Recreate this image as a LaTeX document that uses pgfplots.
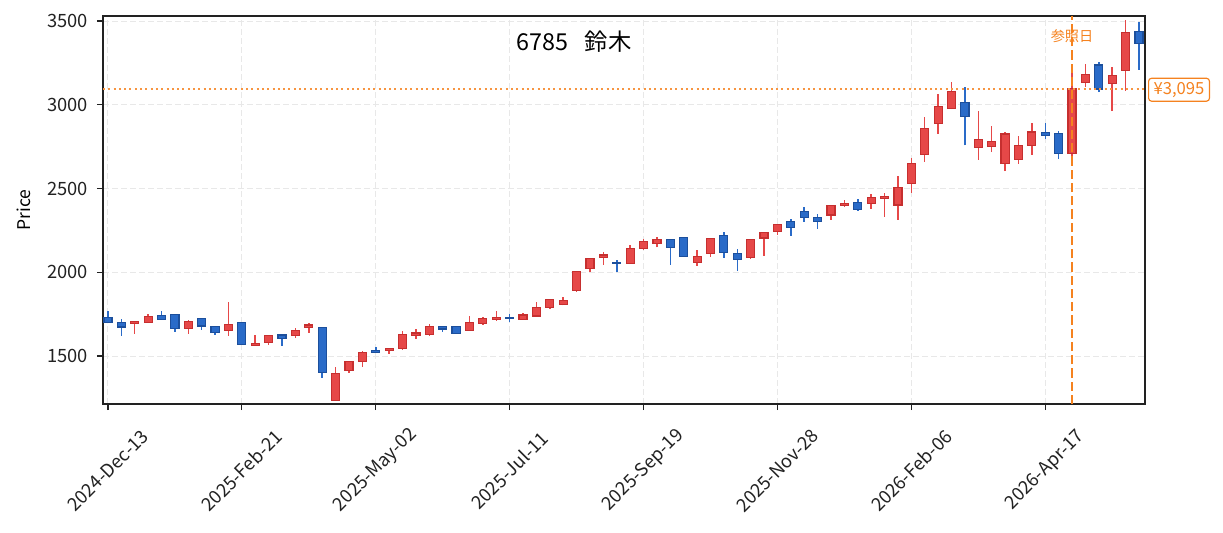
\documentclass[border=0pt]{standalone}
\usepackage{fontspec}
\setmainfont{Noto Sans CJK JP}
\usepackage{pgfplots}
\usepackage{pgfplotstable}
\pgfplotsset{compat=1.18}
\definecolor{upfill}{HTML}{E64848}
\definecolor{upedge}{HTML}{C62F2F}
\definecolor{dnfill}{HTML}{2A6BC8}
\definecolor{dnedge}{HTML}{1C4F9C}
\definecolor{refc}{HTML}{F5821F}
\definecolor{gridc}{HTML}{E8E8E8}
\definecolor{axc}{HTML}{222222}

\pgfplotstableread{
o h l c
1731 1769 1695 1701
1701 1721 1621 1673
1695 1710 1633 1707
1701 1751 1699 1735
1743 1769 1717 1719
1749 1751 1645 1665
1665 1715 1633 1707
1723 1725 1657 1679
1675 1677 1627 1642
1654 1823 1621 1689
1701 1703 1568 1570
1564 1625 1563 1576
1582 1626 1568 1624
1625 1631 1562 1606
1621 1667 1609 1654
1671 1697 1639 1685
1671 1673 1370 1403
1235 1434 1233 1397
1415 1468 1400 1466
1468 1530 1436 1522
1534 1554 1520 1522
1532 1550 1514 1544
1544 1649 1538 1630
1624 1661 1603 1637
1627 1691 1621 1675
1677 1679 1645 1661
1675 1677 1634 1636
1654 1739 1652 1701
1695 1733 1687 1723
1719 1769 1711 1731
1731 1753 1701 1723
1719 1757 1717 1745
1739 1823 1737 1791
1791 1838 1783 1836
1805 1851 1803 1833
1890 2006 1884 2004
2020 2083 2004 2081
2086 2120 2046 2103
2060 2074 2004 2051
2050 2161 2048 2141
2143 2197 2135 2183
2173 2209 2149 2197
2197 2199 2044 2149
2209 2213 2094 2096
2060 2133 2040 2093
2114 2203 2093 2201
2219 2241 2087 2120
2111 2139 2010 2074
2090 2197 2081 2195
2205 2239 2099 2237
2241 2287 2225 2285
2302 2317 2219 2265
2362 2388 2302 2325
2326 2347 2261 2301
2342 2400 2314 2398
2400 2430 2392 2412
2416 2436 2368 2377
2412 2468 2378 2446
2438 2472 2332 2452
2402 2576 2314 2506
2528 2683 2476 2649
2701 2928 2661 2860
2886 3065 2828 2990
2976 3137 2974 3079
3013 3105 2757 2928
2743 2964 2673 2795
2749 2874 2717 2780
2647 2840 2604 2825
2675 2815 2649 2757
2755 2890 2703 2837
2834 2890 2795 2815
2826 2846 2675 2711
2711 3229 2681 3095
3135 3245 3107 3183
3237 3255 3076 3094
3129 3225 2962 3175
3205 3508 3085 3432
3438 3494 3209 3364
}\ohlc

\begin{document}
\begin{tikzpicture}
\begin{axis}[
  scale only axis, width=625.2pt, height=232.8pt,
  xmin=-0.37, xmax=77.45, ymin=1213.4, ymax=3529.9,
  clip=false,
  axis line style={axc, line width=0.9pt},
  tick style={axc, line width=0.7pt},
  tick align=outside, major tick length=3.6pt,
  xtick pos=bottom, ytick pos=left,
  xtick={0,10,...,70},
  xticklabels={2024-Dec-13,2025-Feb-21,2025-May-02,2025-Jul-11,2025-Sep-19,2025-Nov-28,2026-Feb-06,2026-Apr-17},
  ytick={1500,2000,2500,3000,3500},
  /pgf/number format/assume math mode=true,
  /pgf/number format/1000 sep={},
  ticklabel style={font=\fontsize{11}{13}\selectfont, text=axc},
  xticklabel style={anchor=center, yshift=-36.3pt, rotate=45},
  yticklabel style={xshift=-2pt},
  grid=major,
  major grid style={gridc, dash pattern=on 3.6pt off 1.8pt, line width=0.6pt},
]
\coordinate (O) at (rel axis cs:0,0);
\pgfplotsforeachungrouped \k in {0,...,77}{%
  \pgfplotstablegetelem{\k}{o}\of\ohlc \let\vo\pgfplotsretval
  \pgfplotstablegetelem{\k}{h}\of\ohlc \let\vh\pgfplotsretval
  \pgfplotstablegetelem{\k}{l}\of\ohlc \let\vl\pgfplotsretval
  \pgfplotstablegetelem{\k}{c}\of\ohlc \let\vc\pgfplotsretval
  \pgfmathsetmacro\xa{\k-0.3}%
  \pgfmathsetmacro\xb{\k+0.3}%
  \pgfmathparse{\vc>=\vo ? 1 : 0}%
  \ifdim\pgfmathresult pt>0.5pt \def\cf{upfill}\def\ce{upedge}\else\def\cf{dnfill}\def\ce{dnedge}\fi
  \edef\doit{%
    \noexpand\addplot[draw=\cf, line width=0.9pt, forget plot] coordinates {(\k,\vl) (\k,\vh)};
    \noexpand\addplot[fill=\cf, draw=\ce, line width=0.7pt, forget plot] coordinates {(\xa,\vo) (\xb,\vo) (\xb,\vc) (\xa,\vc)} -- cycle;
  }%
  \doit
}
\addplot[refc!85, line width=1.2pt, dash pattern=on 1.2pt off 1.98pt, forget plot] coordinates {(-0.37,3095) (77.45,3095)};
\addplot[refc, line width=1.5pt, dash pattern=on 5.55pt off 2.4pt, forget plot] coordinates {(72,1213.4) (72,3529.9)};
\node[text=refc, font=\fontsize{8.5}{10}\selectfont, inner sep=1pt] at (axis cs:72,3412) {参照日};
\node[text=refc, draw=refc, fill=white, rounded corners=1.8pt, line width=0.7pt, font=\fontsize{10}{12}\selectfont, inner xsep=3pt, inner ysep=2.3pt, anchor=west] at ([xshift=1.8pt]rel axis cs:1,0.81) {¥3,095};
\node[font=\fontsize{14}{16}\selectfont, text=black] at (rel axis cs:0.452,0.933) {6785\hspace{0.7em}鈴木};
\node[rotate=90, font=\fontsize{10.5}{12}\selectfont, text=black] at ([xshift=-47.4pt]rel axis cs:0,0.5) {Price};
\end{axis}
\pgfresetboundingbox
\path (O) ++(-61.8pt,-76.8pt) rectangle ++(733.8pt,319.2pt);
\end{tikzpicture}
\end{document}
